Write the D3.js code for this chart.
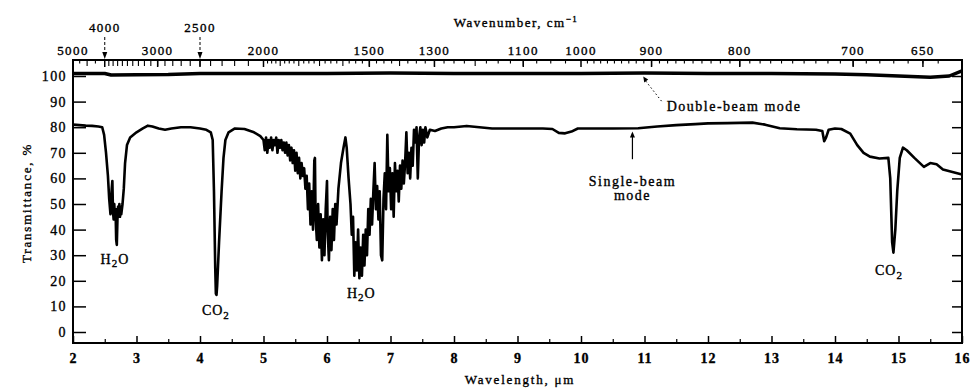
<!DOCTYPE html>
<html><head><meta charset="utf-8">
<script src="https://cdn.jsdelivr.net/npm/d3@7/dist/d3.min.js"></script>
<style>
body{margin:0;background:#fff;}
svg text{font-family:"Liberation Serif","DejaVu Serif",serif;fill:#000;stroke:#000;stroke-width:0.35px;}
</style></head><body>
<svg id="chart" width="971" height="389"></svg>
<script>
// ---- data ----
const sbWavelength = [2.00,2.10,2.20,2.30,2.40,2.46,2.49,2.52,2.55,2.57,2.59,2.61,2.62,2.63,2.64,2.65,2.66,2.67,2.68,2.69,2.70,2.71,2.72,2.73,2.74,2.75,2.76,2.78,2.80,2.82,2.85,2.90,3.00,3.10,3.18,3.25,3.35,3.45,3.55,3.70,3.85,4.00,4.10,4.17,4.20,4.22,4.24,4.25,4.26,4.27,4.30,4.34,4.37,4.40,4.45,4.55,4.70,4.85,4.95,
5.00,5.02,5.04,5.06,5.08,5.10,5.12,5.14,5.16,5.18,5.20,5.22,5.24,5.26,5.28,5.30,5.32,5.34,5.36,5.38,5.40,5.42,5.44,5.46,5.48,5.50,5.52,5.54,5.56,5.58,5.60,5.62,5.64,5.66,5.68,5.70,5.72,5.74,5.76,5.78,5.80,5.81,5.82,5.84,5.86,5.88,5.90,5.92,5.94,5.96,5.98,6.00,6.01,6.03,6.05,6.07,6.09,6.11,6.13,6.15,6.18,6.22,6.26,6.29,6.31,6.34,6.37,6.39,6.41,6.43,6.45,6.47,6.49,6.51,6.53,6.55,6.57,6.59,6.61,6.63,6.65,6.67,6.69,6.71,6.73,6.75,6.77,6.79,6.81,6.83,6.85,6.87,6.89,6.91,6.93,6.95,6.97,6.99,7.01,7.03,7.05,7.07,7.09,7.11,7.13,7.15,7.17,7.19,7.21,7.23,7.25,7.27,7.29,7.31,7.33,7.35,7.37,7.39,7.41,7.43,7.45,7.47,7.49,7.51,7.53,7.55,7.58,7.62,7.70,7.80,7.90,8.00,8.20,8.40,8.60,8.80,9.00,9.20,9.40,9.55,9.65,9.75,9.85,9.95,10.20,10.50,10.90,11.20,11.50,11.80,12.00,12.30,12.70,12.90,13.13,13.40,13.70,13.80,13.83,13.86,13.90,14.00,14.10,14.24,14.35,14.45,14.55,14.70,14.84,14.87,14.90,14.92,14.95,14.98,15.02,15.07,15.13,15.25,15.40,15.50,15.60,15.70,15.85,16.00];
const sbTransmittance = [81,80.8,80.6,80.5,80.3,80,77,70,61,52,46,56,59,47,44,50,45,48,36,34,44,49,45,50,45,49,46,50,56,66,73,76,78,79.5,80.6,80.3,79.5,79,79.5,80,80,79.5,79,78,75,55,25,15,14.5,18,35,55,68,75,78,79.5,79.3,78,76.5,
75,71,76,70,75,72,76,71,75,73,76,70,75,72,75,71,74,70,74,69,73,67,72,66,71,63,70,62,68,60,66,61,64,56,61,48,58,42,55,40,67,68,45,36,50,33,46,28,44,30,48,59,40,28,45,32,48,36,50,42,56,66,72,76,72,60,50,38,45,22,35,24,40,21,33,22,38,26,40,30,48,38,52,42,55,66,48,57,44,55,30,28,52,62,48,77,55,64,48,62,45,66,55,63,51,65,56,67,58,66,78,62,70,60,72,65,79,74,80,60,76,80,73,79,74,80,76,79,78.5,79.5,80,80,80.5,80,79.5,79.5,79.5,79.5,79.5,79.3,77.8,77.6,78.3,79.5,79.5,79.5,79.6,80.3,80.8,81.2,81.5,81.6,81.8,81,79.6,79.2,79,78.5,74.5,76,79,79.5,79.3,77.5,73,70,68.5,67.8,68,60,35,31,40,55,68,72,71,68,64.5,66,65.5,63.5,62.5,61.5];

const dbWavelength = [2.0,2.5,2.6,3.0,3.5,4.0,5.0,6.0,7.0,8.0,9.0,10.0,11.0,12.0,13.0,14.0,14.5,15.0,15.5,15.8,16.0];
const dbTransmittance = [101,101,100.4,100.5,100.6,101,101,101,101.2,101,101,101,101.2,101,101,100.8,100.5,100,99.5,100,102];

const yTicks = [0,10,20,30,40,50,60,70,80,90,100];
const xMajorTicks = [2,3,4,5,6,7,8,9,10,11,12,13,14,15,16];
const xHalfTicks = [2.5,3.5,4.5,5.5,6.5,7.5,8.5,9.5,10.5,11.5,12.5,13.5,14.5,15.5];
const wnLabelsLow = [5000,3000,2000,1500,1300,1100,1000,900,800,700,650];
const wnLabelsHigh = [4000,2500];

// ---- layout ----
const svg = d3.select("#chart");
const mLeft = 73, mRight = 962, mTop = 60, mBottom = 343;
const x = d3.scaleLinear().domain([2,16]).range([mLeft,mRight]);
const y = d3.scaleLinear().domain([0,100]).range([332,76]);

// frame
svg.append("rect").attr("x",mLeft).attr("y",mTop).attr("width",mRight-mLeft).attr("height",mBottom-mTop)
  .attr("fill","none").attr("stroke","#000").attr("stroke-width",2);

// left axis
const gl = svg.append("g").attr("transform",`translate(${mLeft},0)`)
  .call(d3.axisLeft(y).tickValues(yTicks).tickSizeInner(-13).tickSizeOuter(0).tickPadding(6));
gl.select(".domain").remove();
gl.selectAll("line").attr("stroke-width",1.5);
gl.selectAll("text").style("font-size","14px").style("letter-spacing","1.4px");

// right axis
const gr = svg.append("g").attr("transform",`translate(${mRight},0)`)
  .call(d3.axisRight(y).tickValues(yTicks).tickSizeInner(-10).tickSizeOuter(0).tickFormat(""));
gr.select(".domain").remove();
gr.selectAll("line").attr("stroke-width",1.5);

// bottom axis
const gb = svg.append("g").attr("transform",`translate(0,${mBottom})`)
  .call(d3.axisBottom(x).tickValues(xMajorTicks).tickSizeInner(-7).tickSizeOuter(0).tickPadding(10).tickFormat(d3.format("d")));
gb.select(".domain").remove();
gb.selectAll("line").attr("stroke-width",1.5);
gb.selectAll("text").style("font-size","14px").style("font-weight","bold").style("letter-spacing","1px");
const gbh = svg.append("g").attr("transform",`translate(0,${mBottom})`)
  .call(d3.axisBottom(x).tickValues(xHalfTicks).tickSizeInner(-4).tickSizeOuter(0).tickFormat(""));
gbh.select(".domain").remove();
gbh.selectAll("line").attr("stroke-width",1.2);

// top wavenumber axis
const wnMinor = [];
for (let w=4750; w>4000; w-=250) wnMinor.push(w);
for (let w=3900; w>2000; w-=100) wnMinor.push(w);
for (let w=1975; w>1000; w-=25) wnMinor.push(w);
for (let w=990; w>=640; w-=10) wnMinor.push(w);
const gt = svg.append("g");
gt.selectAll("line.minor").data(wnMinor).join("line").attr("class","minor")
  .attr("x1",d=>x(10000/d)).attr("x2",d=>x(10000/d))
  .attr("y1",mTop).attr("y2",d=>mTop + (d%100===0 ? 6 : 3.5))
  .attr("stroke","#000").attr("stroke-width",1.1);
const wnAll = wnLabelsLow.concat(wnLabelsHigh);
gt.selectAll("line.major").data(wnAll).join("line").attr("class","major")
  .attr("x1",d=>x(10000/d)).attr("x2",d=>x(10000/d))
  .attr("y1",mTop).attr("y2",mTop+7).attr("stroke","#000").attr("stroke-width",1.5);
gt.selectAll("text.low").data(wnLabelsLow).join("text").attr("class","low")
  .attr("x",d=>x(10000/d)).attr("y",55).attr("text-anchor","middle")
  .style("font-size","13px").style("letter-spacing","1.4px").text(d=>d);
gt.selectAll("text.high").data(wnLabelsHigh).join("text").attr("class","high")
  .attr("x",d=>x(10000/d)).attr("y",32).attr("text-anchor","middle")
  .style("font-size","13px").style("letter-spacing","1.4px").text(d=>d);
gt.selectAll("line.arr").data(wnLabelsHigh).join("line").attr("class","arr")
  .attr("x1",d=>x(10000/d)).attr("x2",d=>x(10000/d)).attr("y1",37).attr("y2",57)
  .attr("stroke","#000").attr("stroke-width",1).attr("stroke-dasharray","3,2");
gt.selectAll("path.arrh").data(wnLabelsHigh).join("path").attr("class","arrh")
  .attr("d",d=>{const px=x(10000/d);return `M${px-2.5},52 L${px+2.5},52 L${px},59 Z`;});

// titles
svg.append("text").attr("x",516).attr("y",27).attr("text-anchor","middle").style("font-size","13px").style("letter-spacing","1.5px")
  .text("Wavenumber, cm").append("tspan").attr("dy",-5).style("font-size","9px").text("−1");
svg.append("text").attr("x",520).attr("y",384).attr("text-anchor","middle").style("font-size","13px").style("letter-spacing","1.8px")
  .text("Wavelength, μm");
svg.append("text").attr("transform","translate(31,203) rotate(-90)").attr("text-anchor","middle")
  .style("font-size","13px").style("letter-spacing","1.8px").text("Transmittance, %");

// series
const line = d3.line().x(d=>x(d[0])).y(d=>y(d[1]));
svg.append("path").datum(d3.zip(dbWavelength,dbTransmittance)).attr("d",line)
  .attr("fill","none").attr("stroke","#000").attr("stroke-width",3.5).attr("stroke-linejoin","round");
svg.append("path").datum(d3.zip(sbWavelength,sbTransmittance)).attr("d",line)
  .attr("fill","none").attr("stroke","#000").attr("stroke-width",2.6).attr("stroke-linejoin","round");

// annotations
function chem(px,py,base,sub,rest,size,dy){
  const t = svg.append("text").attr("x",x(px)).attr("y",y(py)).attr("text-anchor","middle")
    .style("font-size",size+"px").style("letter-spacing","1px");
  t.append("tspan").text(base);
  t.append("tspan").attr("dy",dy).style("font-size",(size-3)+"px").text(sub);
  if (rest) t.append("tspan").attr("dy",-dy).text(rest);
}
chem(2.66,26.5,"H","2","O",14,3);
chem(4.25,6.8,"CO","2","",14,4);
chem(6.54,13.3,"H","2","O",14,3);
chem(14.85,22.3,"CO","2","",14,4);

svg.append("text").attr("x",x(11.35)).attr("y",y(86.3)).style("font-size","14px").style("letter-spacing","1.5px").text("Double-beam mode");
svg.append("line").attr("x1",x(11.02)).attr("y1",y(98)).attr("x2",x(11.29)).attr("y2",y(89.5))
  .attr("stroke","#000").attr("stroke-width",1).attr("stroke-dasharray","1.5,2.5");
svg.append("path").attr("d",`M${x(10.98)},${y(99.8)} l1,6 l4,-3 Z`);

svg.append("line").attr("x1",x(10.81)).attr("x2",x(10.81)).attr("y1",y(77.5)).attr("y2",y(67.5))
  .attr("stroke","#000").attr("stroke-width",1.2);
svg.append("path").attr("d",`M${x(10.81)},${y(78.3)} l-2.5,6 l5,0 Z`);
svg.append("text").attr("x",x(10.81)).attr("y",y(57)).attr("text-anchor","middle").style("font-size","14px").style("letter-spacing","1.5px").text("Single-beam");
svg.append("text").attr("x",x(10.81)).attr("y",y(51.5)).attr("text-anchor","middle").style("font-size","14px").style("letter-spacing","1.5px").text("mode");
</script></body></html>
